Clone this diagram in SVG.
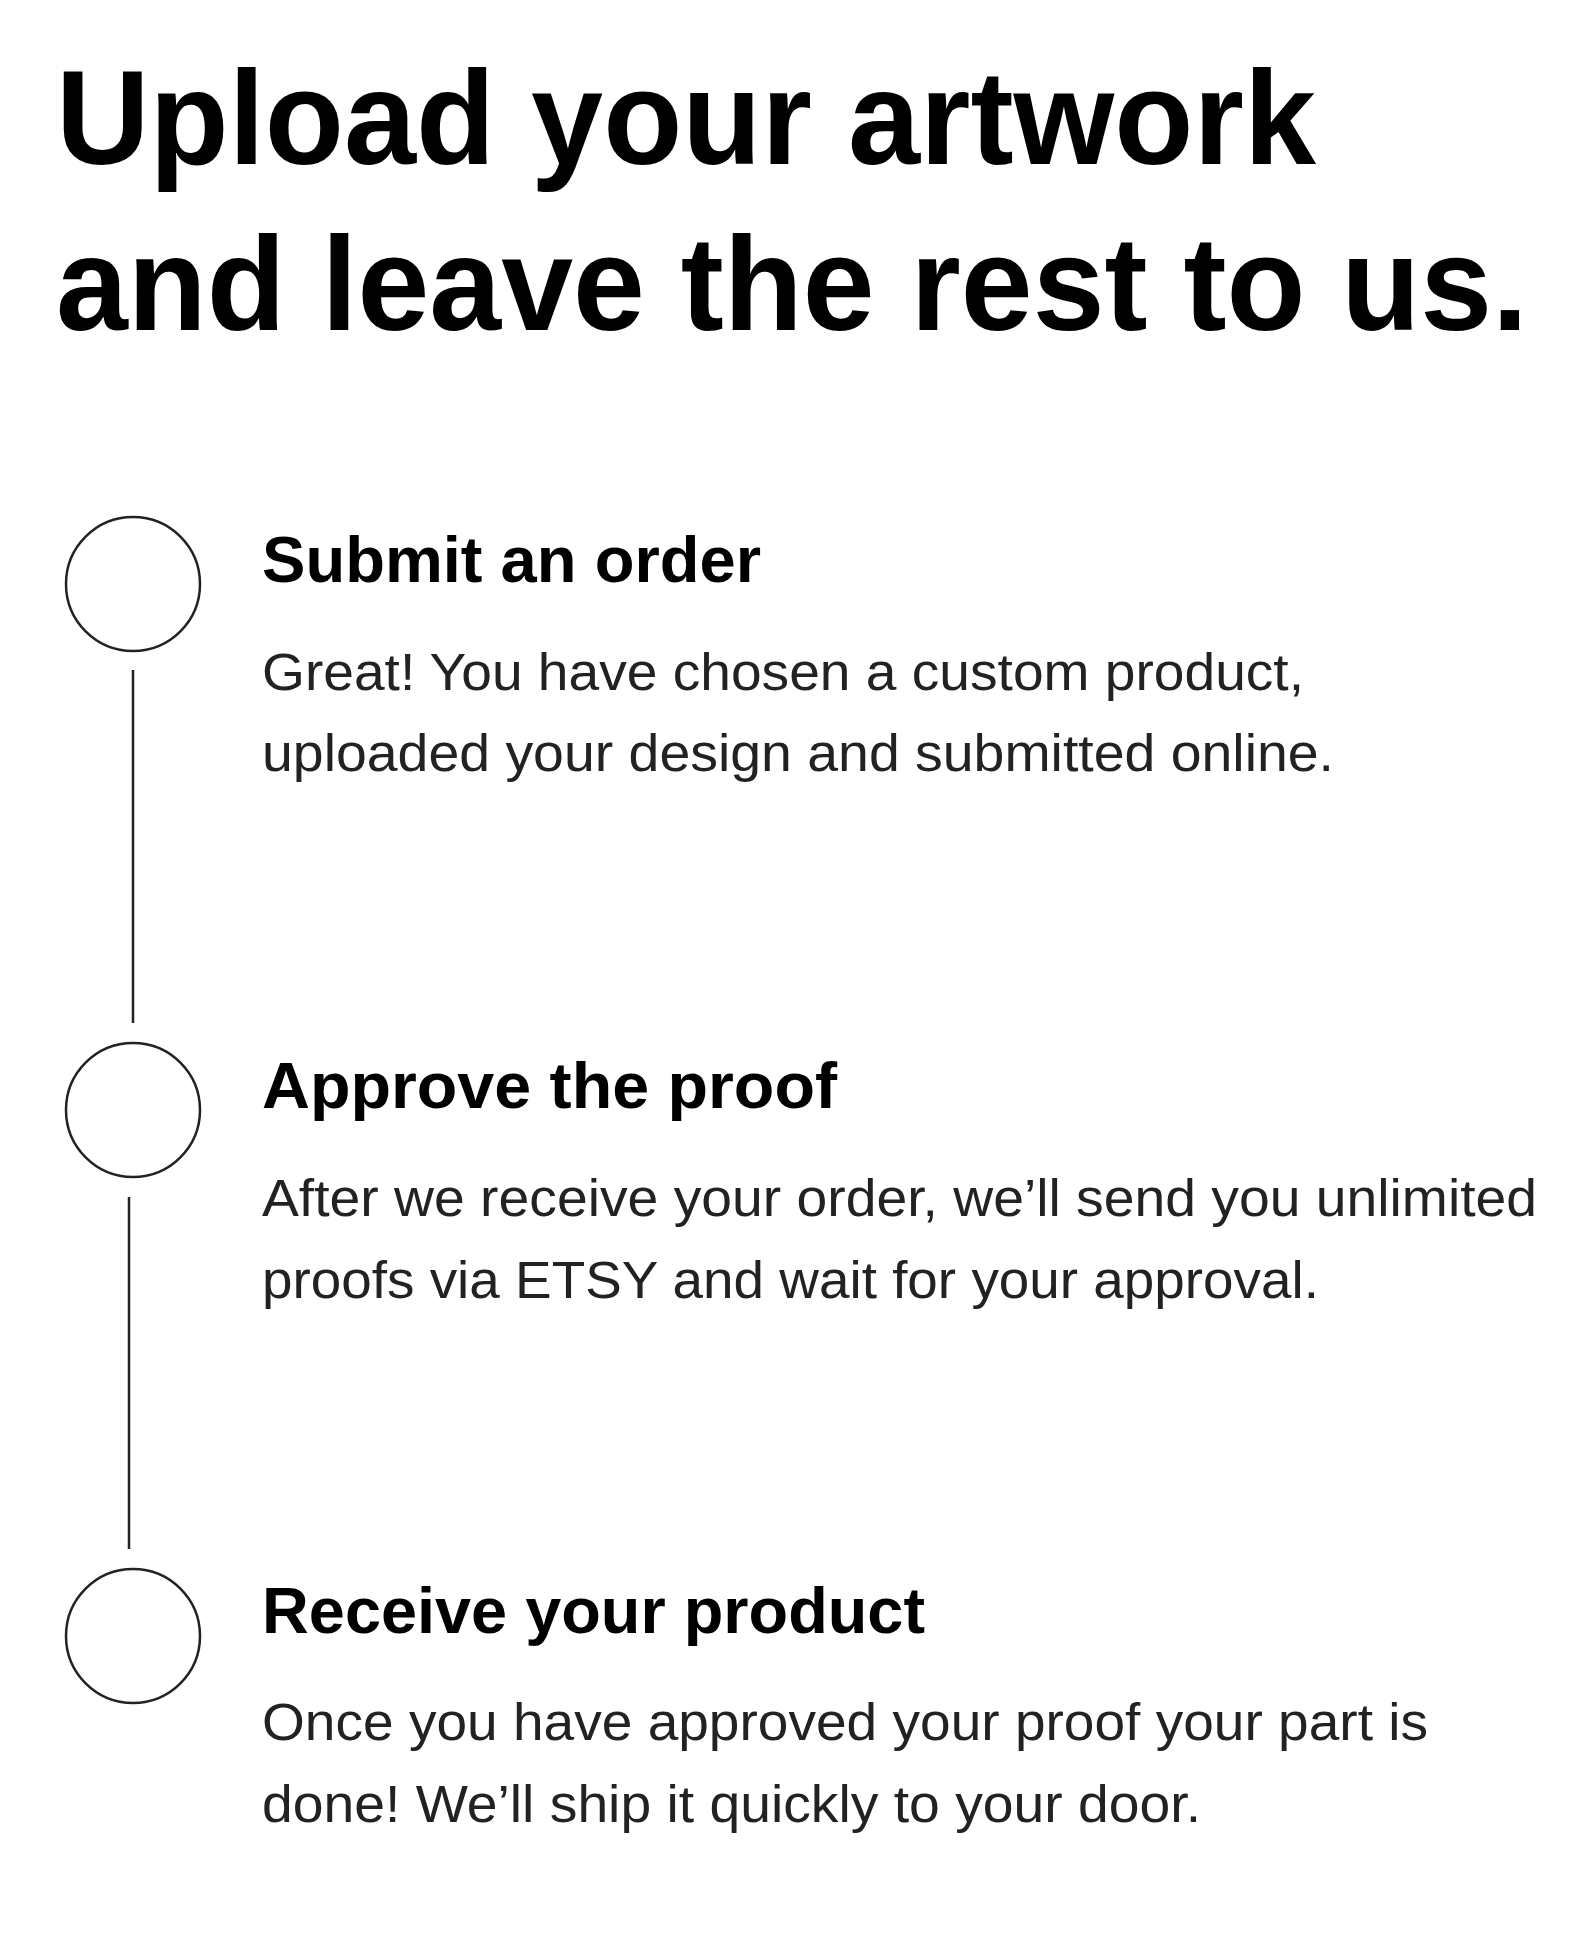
<svg xmlns="http://www.w3.org/2000/svg" width="1588" height="1935" viewBox="0 0 1588 1935">
<style>
.title{font-family:"Liberation Sans",Arial,sans-serif;font-weight:700;font-size:134px;fill:#000}
.head{font-family:"Liberation Sans",Arial,sans-serif;font-weight:700;font-size:64px;fill:#000}
.body{font-family:"Liberation Sans",Arial,sans-serif;font-size:51px;fill:#222}
.ring{fill:#fff;stroke:#222;stroke-width:2.5}
.conn{stroke:#222;stroke-width:2.5;fill:none}
</style>
<rect width="1588" height="1935" fill="#fff"/>
<g id="title">
<text class="title" x="56" y="164" textLength="1260" lengthAdjust="spacingAndGlyphs">Upload your artwork</text>
<text class="title" x="56" y="330" textLength="1472" lengthAdjust="spacingAndGlyphs">and leave the rest to us.</text>
</g>
<g id="connectors">
<line class="conn" x1="133" y1="670" x2="133" y2="1023"/>
<line class="conn" x1="129" y1="1197" x2="129" y2="1549"/>
</g>
<g id="step1">
<circle class="ring" cx="133" cy="584" r="67"/>
<text class="head" x="262" y="582" textLength="499" lengthAdjust="spacingAndGlyphs">Submit an order</text>
<text class="body" x="262" y="690" textLength="1042" lengthAdjust="spacingAndGlyphs">Great! You have chosen a custom product,</text>
<text class="body" x="262" y="771" textLength="1072" lengthAdjust="spacingAndGlyphs">uploaded your design and submitted online.</text>
</g>
<g id="step2">
<circle class="ring" cx="133" cy="1110" r="67"/>
<text class="head" x="262" y="1108" textLength="575" lengthAdjust="spacingAndGlyphs">Approve the proof</text>
<text class="body" x="262" y="1216" textLength="1275" lengthAdjust="spacingAndGlyphs">After we receive your order, we’ll send you unlimited</text>
<text class="body" x="262" y="1298" textLength="1057" lengthAdjust="spacingAndGlyphs">proofs via ETSY and wait for your approval.</text>
</g>
<g id="step3">
<circle class="ring" cx="133" cy="1636" r="67"/>
<text class="head" x="262" y="1633" textLength="663" lengthAdjust="spacingAndGlyphs">Receive your product</text>
<text class="body" x="262" y="1740" textLength="1166" lengthAdjust="spacingAndGlyphs">Once you have approved your proof your part is</text>
<text class="body" x="262" y="1822" textLength="939" lengthAdjust="spacingAndGlyphs">done! We’ll ship it quickly to your door.</text>
</g>
</svg>
